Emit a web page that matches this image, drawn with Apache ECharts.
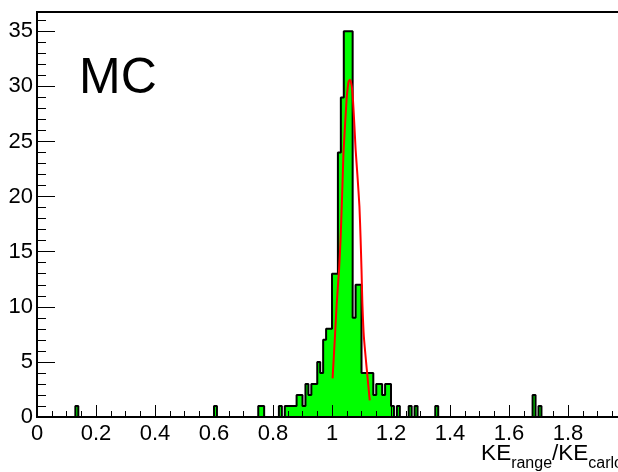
<!DOCTYPE html>
<html>
<head>
<meta charset="utf-8">
<script src="https://cdn.jsdelivr.net/npm/echarts@6/dist/echarts.min.js"></script>
<style>
html,body{margin:0;padding:0;background:#fff;}
#chart{width:618px;height:472px;}
</style>
</head>
<body>
<div id="chart"></div>
<script>
// Histogram bins (lower edge, bin width 0.01) and counts
const binLow   = [0.14,0.61,0.76,0.77,0.83,0.85,0.86,0.87,0.88,0.89,0.90,0.91,0.92,0.93,0.94,0.95,0.96,0.97,0.98,0.99,1.00,1.01,1.02,1.03,1.04,1.05,1.06,1.07,1.08,1.09,1.10,1.11,1.12,1.13,1.14,1.15,1.16,1.17,1.18,1.19,1.20,1.21,1.23,1.27,1.29,1.36,1.69,1.71];
const binCount = [1,   1,   1,   1,   1,   1,   1,   1,   1,   2,   2,   1,   3,   2,   3,   3,   5,   4,   7,   8,   8,   13,  13,  24,  29,  35,  35,  35,  9,   12,  12,  4,   4,   4,   4,   2,   3,   3,   2,   3,   3,   1,   1,   1,   1,   1,   2,   1];
const binWidth = 0.01;
const nBins = 200;
// Fit curve points
const fitX = [1.002,1.010,1.016,1.024,1.029,1.033,1.036,1.039,1.046,1.050,1.056,1.061,1.067,1.071,1.076,1.080,1.086,1.093,1.097,1.100,1.103,1.108,1.118,1.128];
const fitY = [3.5,  7.3,  10.3, 13.4, 16.1, 19.1, 21.5, 24.0, 27.3, 29.0, 30.4, 30.6, 30.0, 28.8, 26.4, 24.3, 22.0, 19.1, 16.1, 13.4, 10.3, 7.3,  4.3,  1.5];
// Axis tick labels
const xTickVals = [0,0.2,0.4,0.6,0.8,1,1.2,1.4,1.6,1.8,2];
const yTickVals = [0,5,10,15,20,25,30,35];
const yMinorVals = [1,2,3,4,6,7,8,9,11,12,13,14,16,17,18,19,21,22,23,24,26,27,28,29,31,32,33,34,36];

const counts = new Array(nBins).fill(0);
binLow.forEach((lo, k) => { counts[Math.round(lo / binWidth)] = binCount[k]; });
const histData = [];
for (let i = 0; i < nBins; i++) histData.push([+(i * binWidth).toFixed(2), counts[i]]);
histData.push([+(nBins * binWidth).toFixed(2), counts[nBins - 1]]);
const fitData = fitX.map((x, i) => [x, fitY[i]]);

const FONT = 'Liberation Sans';
const chart = echarts.init(document.getElementById('chart'), null, {renderer: 'canvas'});
chart.setOption({
  animation: false,
  backgroundColor: '#ffffff',
  grid: {left: 37, width: 590, top: 12, height: 405, containLabel: false, outerBoundsMode: 'none',
    show: true, borderColor: '#000', borderWidth: 2, backgroundColor: 'transparent'},
  xAxis: {
    type: 'value', min: 0, max: 2, interval: 0.2, z: 10,
    axisLine: {show: true, onZero: false, lineStyle: {color: '#000', width: 2}},
    axisTick: {show: true, inside: true, length: 12, lineStyle: {color: '#000', width: 1}},
    minorTick: {show: true, splitNumber: 4, length: 6, lineStyle: {color: '#000', width: 1}},
    axisLabel: {show: true, color: '#000', fontSize: 22, fontFamily: FONT, margin: 6,
      customValues: xTickVals,
      formatter: v => String(Math.round(v * 10) / 10)},
    splitLine: {show: false}, minorSplitLine: {show: false}
  },
  yAxis: [{
    type: 'value', min: 0, max: 36.75, position: 'left', z: 10,
    axisLine: {show: true, onZero: false, lineStyle: {color: '#000', width: 2}},
    axisTick: {show: true, inside: true, length: 18, customValues: yTickVals, lineStyle: {color: '#000', width: 1}},
    axisLabel: {show: true, color: '#000', fontSize: 22, fontFamily: FONT, margin: 4, customValues: yTickVals},
    splitLine: {show: false}
  }, {
    type: 'value', min: 0, max: 36.75, position: 'left', z: 10,
    axisLine: {show: false},
    axisTick: {show: true, inside: true, length: 9, customValues: yMinorVals, lineStyle: {color: '#000', width: 1}},
    axisLabel: {show: false},
    splitLine: {show: false}
  }],
  series: [{
    type: 'line', data: histData, step: 'start', showSymbol: false, z: 2,
    lineStyle: {color: '#000', width: 2},
    areaStyle: {color: '#00ff00', opacity: 1},
    silent: true
  }, {
    type: 'line', data: fitData, showSymbol: false, z: 3, smooth: 0.2,
    lineStyle: {color: '#ff0000', width: 2},
    silent: true
  }],
  graphic: [{
    type: 'text', left: 79, top: 54,
    style: {text: 'MC', fontSize: 50, fontFamily: FONT, fill: '#000'}
  }, {
    type: 'text', x: 623, y: 472,
    style: {
      text: '{a|KE}{b|range}{a|/KE}{b|carlo}',
      align: 'right', verticalAlign: 'bottom',
      rich: {
        a: {fontSize: 22.5, fontFamily: FONT, fill: '#000', verticalAlign: 'top', lineHeight: 30},
        b: {fontSize: 16, fontFamily: FONT, fill: '#000', verticalAlign: 'bottom', lineHeight: 30}
      }
    }
  }]
});
</script>
</body>
</html>
